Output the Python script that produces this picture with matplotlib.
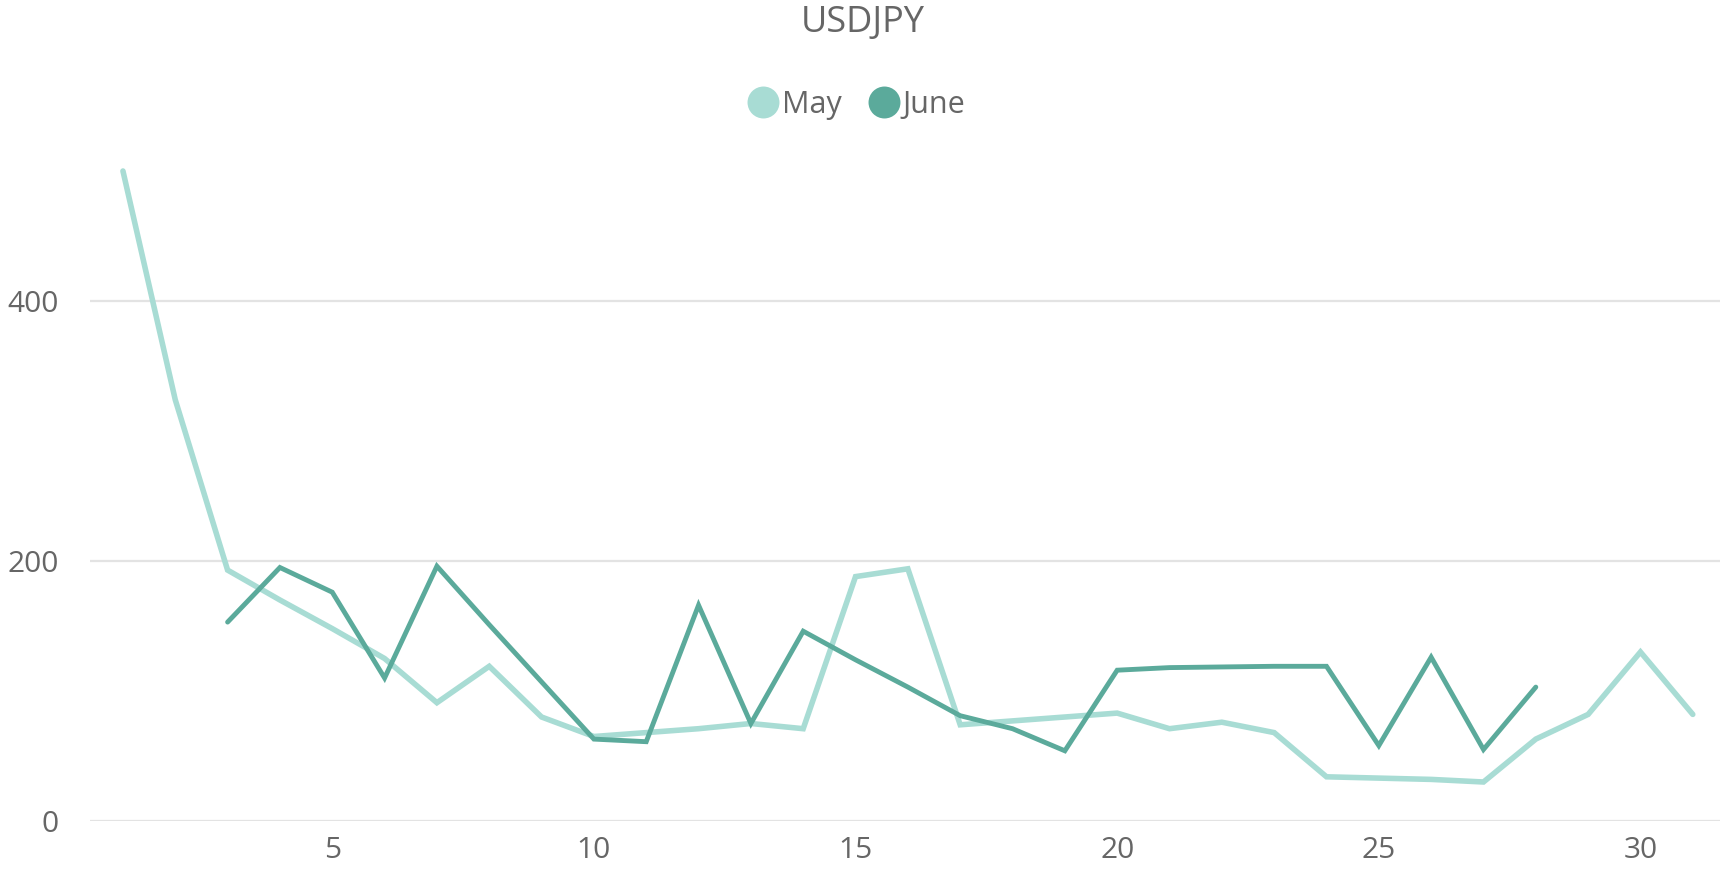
import matplotlib
matplotlib.use("Agg")
import matplotlib.pyplot as plt
from matplotlib.lines import Line2D

days_may = list(range(1, 32))
may = [500, 324, 193, 170, 148, 125, 91, 119, 80, 65, 68, 71, 75, 71, 188, 194,
       74, 77, 80, 83, 71, 76, 68, 34, 33, 32, 30, 63, 82, 130, 82]
days_june = list(range(3, 29))
june = [153, 195, 176, 110, 196, 151, 107, 63, 61, 166, 75, 146, 124, 103, 81,
        71, 54, 116, 118, 118.5, 119, 119, 58, 126, 55, 103]
x_ticks = [5, 10, 15, 20, 25, 30]
y_ticks = [0, 200, 400]
title = "USDJPY"
series_names = ["May", "June"]

c_may = "#A8DCD4"
c_june = "#5BAA9B"
text_c = "#666666"

plt.rcParams['font.family'] = ['Open Sans', 'DejaVu Sans']

fig = plt.figure(figsize=(17.31, 8.77), dpi=100)
ax = fig.add_axes([90.5 / 1731, 56 / 877, (1720 - 90.5) / 1731, 676 / 877])

ax.plot(days_may, may, color=c_may, lw=4.0, solid_joinstyle='miter', solid_capstyle='round', zorder=3)
ax.plot(days_june, june, color=c_june, lw=3.5, solid_joinstyle='miter', solid_capstyle='round', zorder=4)

ax.set_xlim(0.38, 31.52)
ax.set_ylim(0, 520)
ax.set_xticks(x_ticks)
ax.set_yticks(y_ticks)
ax.tick_params(length=0, labelsize=21.5, labelcolor=text_c)
ax.tick_params(axis='x', pad=11)
ax.tick_params(axis='y', pad=23)
for lbl in ax.get_yticklabels():
    lbl.set_horizontalalignment('right')
for s in ax.spines.values():
    s.set_visible(False)
ax.grid(axis='y', color='#E3E3E3', lw=1.6)
ax.set_axisbelow(True)

fig.text(0.4987, 1 - 23 / 877, title, ha='center', va='center', fontsize=26, color=text_c)

handles = [Line2D([], [], ls='none', marker='o', markersize=23, color=c_may, markeredgewidth=0),
           Line2D([], [], ls='none', marker='o', markersize=23, color=c_june, markeredgewidth=0)]
fig.legend(handles, series_names, loc='center', bbox_to_anchor=(0.4945, 1 - 105 / 877),
           ncol=2, frameon=False, fontsize=22, labelcolor=text_c,
           handletextpad=0.05, columnspacing=0.85, handlelength=1.1)

fig.savefig("out.png", dpi=100, facecolor='white')
